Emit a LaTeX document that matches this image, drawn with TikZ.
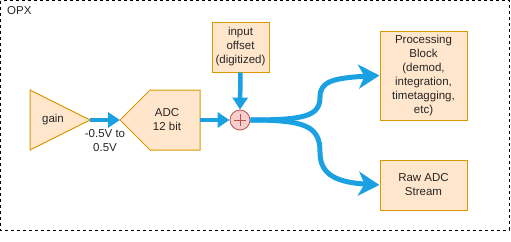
\documentclass[tikz,border=0pt]{standalone}
\usepackage{fontspec}
\setmainfont{Liberation Sans}
\usetikzlibrary{arrows.meta,positioning,calc}
\definecolor{wire}{RGB}{27,161,226}
\definecolor{blockfill}{RGB}{255,230,204}
\definecolor{blockline}{RGB}{215,155,0}
\definecolor{sumfill}{RGB}{248,206,204}
\definecolor{sumline}{RGB}{184,84,80}

\begin{document}
\begin{tikzpicture}[x=1pt, y=-1pt,
  block/.style={draw=blockline, fill=blockfill, line width=1pt, align=center,
    inner sep=0pt, font=\fontsize{11.5}{14}\selectfont, text=black!85},
  txt/.style={align=center, inner sep=0pt, font=\fontsize{11.5}{14}\selectfont, text=black!85},
  adder/.style={circle, draw=sumline, fill=sumfill, line width=0.8pt, minimum size=20pt, inner sep=0pt},
  flow/.style={-{Triangle[length=12pt,width=15pt]}, line width=4.5pt, draw=wire},
  branch/.style={-{Stealth[length=21pt,width=24pt,inset=6pt]}, line width=5pt, draw=wire}
]
\useasboundingbox (0,0) rectangle (511,241);

% Frame.
\draw[dashed, dash pattern=on 3pt off 3pt, line width=0.8pt] (0.5,0.5) rectangle (509,230);
\node[txt, anchor=west] (opx) at (7,11) {OPX};

% Front end.
\draw[draw=blockline, fill=blockfill, line width=1pt] (30,90) -- (90,120) -- (30,150) -- cycle;
\coordinate (gain-tip) at (90,120);
\node[txt] (gain) at (53,120) {gain};

\draw[draw=blockline, fill=blockfill, line width=1pt]
  (120,120) -- (150,90) -- (200,90) -- (200,150) -- (150,150) -- cycle;
\coordinate (adc-in) at (120,120);
\coordinate (adc-out) at (200,120);
\node[txt] (adc) at (167,120) {ADC\\12 bit};

\node[adder] (sum) at (240,120) {};
\draw[sumline, line width=0.8pt] ($(sum.center)+(-6,0)$) -- ($(sum.center)+(6,0)$)
  ($(sum.center)+(0,-6)$) -- ($(sum.center)+(0,6)$);

\node[block, minimum width=57pt, minimum height=50pt] (offset) at (240.5,47) {input\\offset\\(digitized)};

\draw[flow] (gain-tip) -- (adc-in);
\node[txt] (range) at (105,141) {-0.5V to\\0.5V};
\draw[flow] (adc-out) -- (sum.west);
\draw[flow] (offset.south) -- (sum.north);

% Outputs.
\node[block, minimum width=87pt, minimum height=89pt] (proc) at (423.5,75.5)
  {Processing\\Block\\(demod,\\integration,\\timetagging,\\etc)};
\node[block, minimum width=87pt, minimum height=50pt] (raw) at (423.5,185) {Raw ADC\\Stream};

\draw[branch] (sum.east) .. controls (305,120) and (320,116) .. (320,97)
  .. controls (320,82) and (332,78) .. (proc.west);
\draw[branch] (sum.east) .. controls (305,120) and (320,126) .. (320,152)
  .. controls (320,172) and (332,182) .. (raw.west);

\end{tikzpicture}
\end{document}
